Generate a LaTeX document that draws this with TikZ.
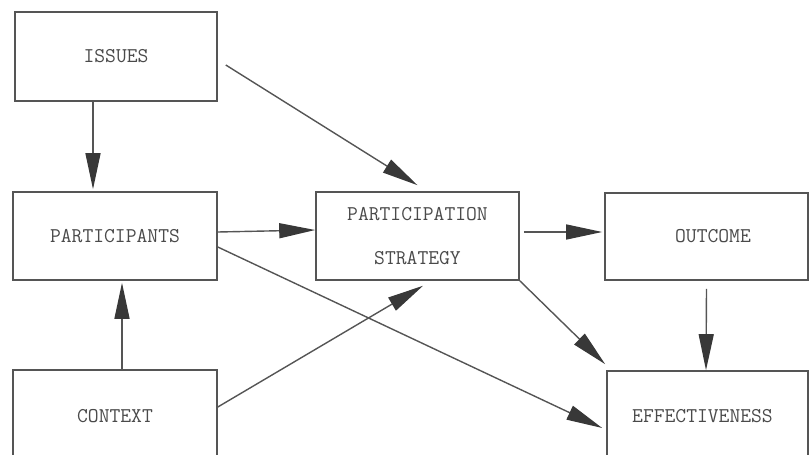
\documentclass[tikz,border=0pt]{standalone}
\usetikzlibrary{arrows.meta}
\definecolor{ink}{HTML}{4A4A4A}
\definecolor{boxline}{HTML}{555555}
\definecolor{headc}{HTML}{383838}
\begin{document}
\begin{tikzpicture}[x=1pt,y=-1pt,
  box/.style={draw=boxline,line width=1.6pt,inner sep=0pt,text=ink,
    font=\ttfamily\fontsize{21}{44}\selectfont,align=center},
  arr/.style={draw=boxline,line width=1.4pt,
    -{Triangle[length=36pt,width=15pt,fill=headc,color=headc]}}]
\useasboundingbox (0,0) rectangle (809,455);
\clip (0,0) rectangle (809,455);
\node[box,minimum width=202pt,minimum height=89pt] (issues) at (116,56.5) {ISSUES};
\node[box,minimum width=204pt,minimum height=88pt] (part) at (115,236) {\raisebox{-4pt}{PARTICIPANTS}};
\node[box,minimum width=204pt,minimum height=92pt] (context) at (115,416) {CONTEXT};
\node[box,minimum width=203pt,minimum height=88pt] (strat) at (417.5,236) {PARTICIPATION\\STRATEGY};
\node[box,minimum width=203pt,minimum height=87pt] (outcome) at (706.5,236.5) {\hspace*{13pt}OUTCOME};
\node[box,minimum width=201pt,minimum height=90pt] (eff) at (707.5,416) {EFFECTIVENESS\hspace*{10pt}};
\draw[arr] ([xshift=-23pt]issues.south) -- ([xshift=-22pt,yshift=2pt]part.north);
\draw[arr] ([xshift=8pt,yshift=-8.5pt]issues.east) -- ([yshift=6pt]strat.north);
\draw[arr] ([yshift=4pt]part.east) -- ([yshift=6pt]strat.west);
\draw[arr] ([xshift=7pt]context.north) -- ([xshift=7pt,yshift=-2pt]part.south);
\draw[arr] ([yshift=9pt]context.east) -- ([xshift=5.5pt,yshift=-5pt]strat.south);
\draw[arr] ([yshift=-11pt]part.east) -- ([xshift=-4pt,yshift=-12pt]eff.west);
\draw[arr] (strat.south east) -- ([xshift=-1pt,yshift=6pt]eff.north west);
\draw[arr] ([xshift=4pt,yshift=4pt]strat.east) -- ([xshift=-2pt,yshift=4.5pt]outcome.west);
\draw[arr] ([yshift=-8pt]outcome.south) -- ([xshift=-1.5pt]eff.north);
\end{tikzpicture}
\end{document}
